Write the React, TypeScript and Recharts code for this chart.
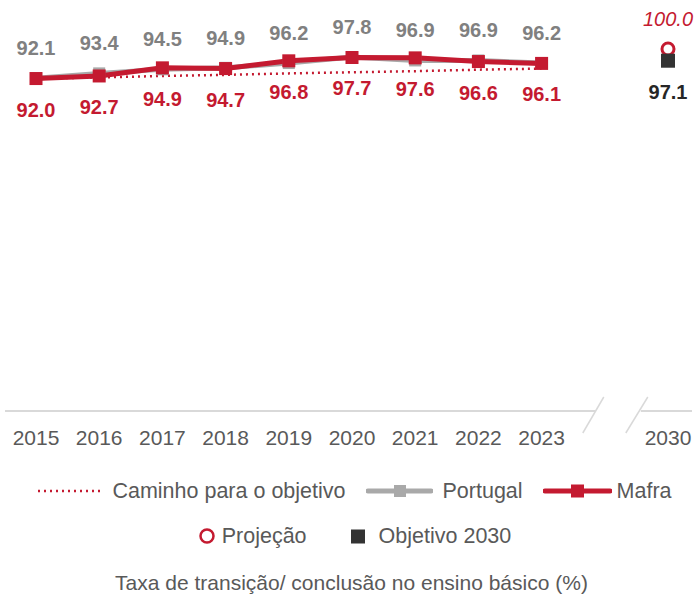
import React from 'react';
import { ComposedChart, Line, XAxis, YAxis } from 'recharts';

const years = ['2015', '2016', '2017', '2018', '2019', '2020', '2021', '2022', '2023', '', '2030'];
const portugal: (number | null)[] = [92.1, 93.4, 94.5, 94.9, 96.2, 97.8, 96.9, 96.9, 96.2, null, null];
const mafra: (number | null)[] = [92.0, 92.7, 94.9, 94.7, 96.8, 97.7, 97.6, 96.6, 96.1, null, null];
const pathToGoal: (number | null)[] = [92.0, 92.3, 92.7, 93.0, 93.4, 93.7, 94.0, 94.4, 94.7, null, null];
const projection: (number | null)[] = [null, null, null, null, null, null, null, null, null, null, 100.0];
const objective: (number | null)[] = [null, null, null, null, null, null, null, null, null, null, 97.1];

const legendRow1 = ['Caminho para o objetivo', 'Portugal', 'Mafra'];
const legendRow2 = ['Projeção', 'Objetivo 2030'];
const caption = 'Taxa de transição/ conclusão no ensino básico (%)';

const RED = '#c41a30';
const GRAY_LINE = '#a9a9a9';
const GRAY_LABEL = '#808080';
const DARK = '#333333';
const TEXT = '#595959';
const FONT = '"Liberation Sans", Arial, sans-serif';
const LABEL_SIZE = 20;

const rows = years.map((y, i) => ({
  year: y,
  portugal: portugal[i],
  mafra: mafra[i],
  path: pathToGoal[i],
  proj: projection[i],
  obj: objective[i],
}));

const makeDot = (kind: 'portugal' | 'mafra' | 'proj' | 'obj') => (p: any) => {
  const { cx, cy, value, index } = p;
  const v = Array.isArray(value) ? value[1] : value;
  if (v == null || cy == null || cx == null || isNaN(cy)) return <g key={`${kind}-${index}`} />;
  const txt = Number(v).toFixed(1);
  if (kind === 'portugal') {
    return (
      <g key={`${kind}-${index}`}>
        <rect x={cx - 6} y={cy - 6} width={12} height={12} fill={GRAY_LINE} />
        <text x={cx} y={cy - 30} textAnchor="middle" dominantBaseline="central" fontSize={LABEL_SIZE} fontWeight="bold" fill={GRAY_LABEL} fontFamily={FONT}>{txt}</text>
      </g>
    );
  }
  if (kind === 'mafra') {
    return (
      <g key={`${kind}-${index}`}>
        <rect x={cx - 6.5} y={cy - 6.5} width={13} height={13} fill={RED} />
        <text x={cx} y={cy + 31} textAnchor="middle" dominantBaseline="central" fontSize={LABEL_SIZE} fontWeight="bold" fill={RED} fontFamily={FONT}>{txt}</text>
      </g>
    );
  }
  if (kind === 'proj') {
    return (
      <g key={`${kind}-${index}`}>
        <circle cx={cx} cy={cy} r={6} fill="#fff" stroke={RED} strokeWidth={3} />
        <text x={cx} y={cy - 30} textAnchor="middle" dominantBaseline="central" fontSize={LABEL_SIZE} fontStyle="italic" fill={RED} fontFamily={FONT}>{txt}</text>
      </g>
    );
  }
  return (
    <g key={`${kind}-${index}`}>
      <rect x={cx - 7} y={cy - 6} width={14} height={14} fill={DARK} />
      <text x={cx} y={cy + 32} textAnchor="middle" dominantBaseline="central" fontSize={LABEL_SIZE} fontWeight="bold" fill="#262626" fontFamily={FONT}>{txt}</text>
    </g>
  );
};

const Tick = (props: any) => {
  const { x, y, payload } = props;
  const axisY = y - 8;
  if (payload.value === '') {
    return (
      <g>
        <rect x={x - 9} y={axisY - 3} width={45} height={6} fill="#fff" />
        <line x1={x - 1} y1={axisY - 14} x2={x - 22} y2={axisY + 22} stroke="#d9d9d9" strokeWidth={1.5} />
        <line x1={x + 43} y1={axisY - 14} x2={x + 21} y2={axisY + 22} stroke="#d9d9d9" strokeWidth={1.5} />
      </g>
    );
  }
  return (
    <text x={x} y={axisY + 26} textAnchor="middle" dominantBaseline="central" fontSize={21} fill={TEXT} fontFamily={FONT}>
      {payload.value}
    </text>
  );
};

const itemStyle: React.CSSProperties = { display: 'flex', alignItems: 'center', whiteSpace: 'nowrap' };

export default function App() {
  return (
    <div style={{ position: 'absolute', left: 0, top: 0, width: 697, height: 597, background: '#fff', fontFamily: FONT }}>
      <ComposedChart width={697} height={460} data={rows} margin={{ top: 49, right: 5, bottom: 9, left: 5 }}>
        <XAxis
          dataKey="year"
          height={40}
          padding={{ left: 31, right: 24 }}
          axisLine={{ stroke: '#d9d9d9', strokeWidth: 2 }}
          tickLine={false}
          interval={0}
          tick={<Tick />}
        />
        <YAxis hide domain={[2, 100]} />
        <Line dataKey="path" stroke={RED} strokeWidth={2.5} strokeDasharray="2 4" dot={false} activeDot={false} isAnimationActive={false} />
        <Line dataKey="portugal" stroke={GRAY_LINE} strokeWidth={5} dot={makeDot('portugal')} activeDot={false} isAnimationActive={false} />
        <Line dataKey="mafra" stroke={RED} strokeWidth={5} dot={makeDot('mafra')} activeDot={false} isAnimationActive={false} />
        <Line dataKey="proj" stroke="none" dot={makeDot('proj')} activeDot={false} isAnimationActive={false} />
        <Line dataKey="obj" stroke="none" dot={makeDot('obj')} activeDot={false} isAnimationActive={false} />
      </ComposedChart>

      <div style={{ position: 'absolute', left: 0, top: 476, width: 697, height: 30, display: 'flex', justifyContent: 'center', alignItems: 'center', fontSize: 21.5, color: TEXT, paddingLeft: 12, boxSizing: 'border-box' }}>
        <div style={itemStyle}>
          <svg width={63} height={10}><line x1={1} y1={5} x2={63} y2={5} stroke={RED} strokeWidth={2.5} strokeDasharray="2 4" /></svg>
          <span style={{ marginLeft: 12 }}>{legendRow1[0]}</span>
        </div>
        <div style={{ ...itemStyle, marginLeft: 20 }}>
          <svg width={67} height={14}><line x1={2} y1={7} x2={65} y2={7} stroke={GRAY_LINE} strokeWidth={5} strokeLinecap="round" /><rect x={28} y={1} width={12} height={12} fill={GRAY_LINE} /></svg>
          <span style={{ marginLeft: 10 }}>{legendRow1[1]}</span>
        </div>
        <div style={{ ...itemStyle, marginLeft: 20 }}>
          <svg width={69} height={14}><line x1={2} y1={7} x2={67} y2={7} stroke={RED} strokeWidth={5} strokeLinecap="round" /><rect x={28} y={0.5} width={13} height={13} fill={RED} /></svg>
          <span style={{ marginLeft: 5 }}>{legendRow1[2]}</span>
        </div>
      </div>

      <div style={{ position: 'absolute', left: 0, top: 521, width: 697, height: 30, display: 'flex', justifyContent: 'center', alignItems: 'center', fontSize: 21.5, color: TEXT, paddingLeft: 12, boxSizing: 'border-box' }}>
        <div style={itemStyle}>
          <svg width={18} height={18}><circle cx={9} cy={9} r={6.5} fill="#fff" stroke={RED} strokeWidth={2.5} /></svg>
          <span style={{ marginLeft: 6 }}>{legendRow2[0]}</span>
        </div>
        <div style={{ ...itemStyle, marginLeft: 44 }}>
          <svg width={15} height={15}><rect x={0} y={0.5} width={14} height={14} fill={DARK} /></svg>
          <span style={{ marginLeft: 13 }}>{legendRow2[1]}</span>
        </div>
      </div>

      <div style={{ position: 'absolute', left: 0, top: 568, width: 697, height: 30, lineHeight: '30px', textAlign: 'center', fontSize: 21, color: TEXT, paddingLeft: 6, boxSizing: 'border-box', whiteSpace: 'nowrap' }}>
        {caption}
      </div>
    </div>
  );
}
